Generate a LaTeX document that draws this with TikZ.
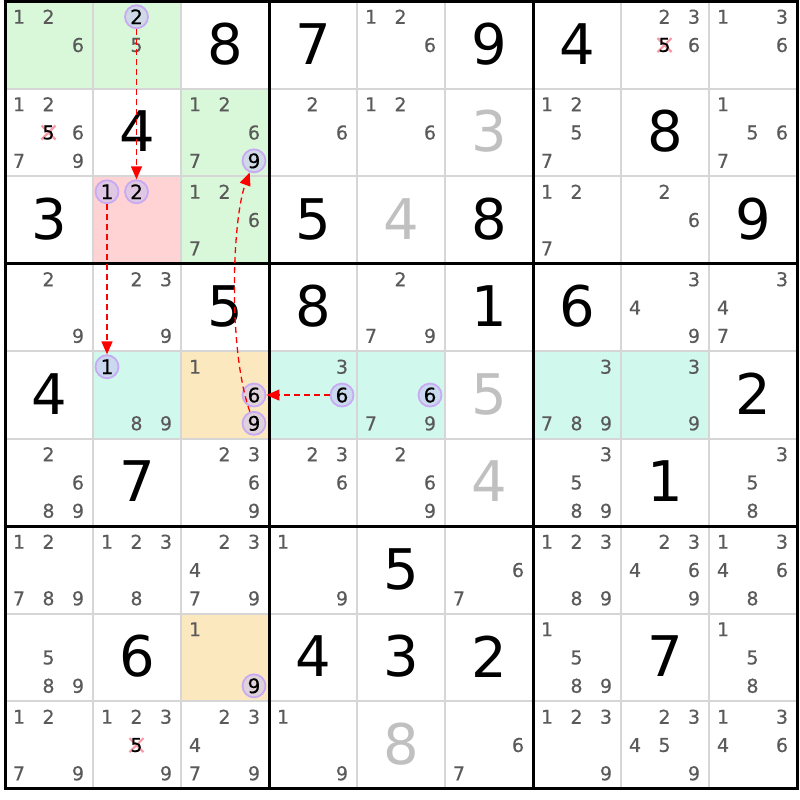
\documentclass[tikz,border=0pt]{standalone}
\usepackage{fontspec}
\setmainfont{DejaVu Sans}
\newfontfamily\candfont[FakeBold=0.35]{DejaVu Sans}
\usetikzlibrary{arrows.meta}
\definecolor{cgreen}{HTML}{D9F8D9}
\definecolor{cpink}{HTML}{FFD3D3}
\definecolor{ccyan}{HTML}{D0F8EC}
\definecolor{corange}{HTML}{FCE8BF}
\definecolor{cgrid}{HTML}{D6D6D6}
\definecolor{ccand}{HTML}{5A5A5A}
\definecolor{cgiven}{HTML}{C0C0C0}
\definecolor{cring}{HTML}{C8AAF4}
\definecolor{cringfill}{HTML}{C8C0F4}
\definecolor{cxmark}{HTML}{F59AA4}
\newcommand\CandXY[3]{%
  \pgfmathsetmacro\px{49+88*#2+29.5*(mod(#3-1,3)-1)-0.5}%
  \pgfmathsetmacro\py{45.05+87.5*#1+28.3*(floor((#3-1)/3)-1)}}
\newcommand\Cands[3]{\foreach \d in {#3}{\CandXY{#1}{#2}{\d}\node[cand] (k#1#2\d) at (\px,\py) {\d};}}
\newcommand\Ring[4]{\CandXY{#1}{#2}{#3}\node[ring] (#4) at (\px,\py) {#3};}
\newcommand\Xcand[3]{\CandXY{#1}{#2}{#3}%
  \draw[xmark] (\px-7,\py-7) -- (\px+7,\py+7) (\px-7,\py+7) -- (\px+7,\py-7);
  \node[xd] (x#1#2) at (\px,\py) {#3};}
\newcommand\BigDig[4][bigd]{\node[#1] (b#2#3) at ({49+88*#3},{44+87.5*#2}) {#4};}
\newcommand\CellFill[3]{\fill[#3] ({5+88*#2},{1.3+87.5*#1}) rectangle ++(88,87.5);}
\begin{document}
\begin{tikzpicture}[x=1pt,y=-1pt,
  cand/.style={text=ccand,font=\candfont\fontsize{19}{19}\selectfont,inner sep=0pt},
  xd/.style={text=black,font=\candfont\fontsize{19}{19}\selectfont,inner sep=0pt},
  bigd/.style={text=black,font=\fontsize{56}{56}\selectfont,inner sep=0pt},
  bigg/.style={bigd,text=cgiven},
  ring/.style={circle,draw=cring,line width=1.8pt,fill=cringfill,fill opacity=0.55,
    text opacity=1,text=black,minimum size=23pt,inner sep=0pt,font=\candfont\fontsize{20}{20}\selectfont},
  xmark/.style={draw=cxmark,line width=2.2pt},
  link/.style={draw=red,line width=1.3pt,dash pattern=on 6pt off 4pt,
    -{Triangle[length=13pt,width=11pt]}},
  thingrid/.style={draw=cgrid,line width=2pt},
  thickgrid/.style={draw=black,line width=3pt}]
\useasboundingbox (0,0) rectangle (800,800);
\fill[white] (0,0) rectangle (800,800);
% cell fills
\CellFill{0}{0}{cgreen}\CellFill{0}{1}{cgreen}\CellFill{1}{2}{cgreen}\CellFill{2}{2}{cgreen}
\CellFill{2}{1}{cpink}
\CellFill{4}{1}{ccyan}\CellFill{4}{3}{ccyan}\CellFill{4}{4}{ccyan}\CellFill{4}{6}{ccyan}\CellFill{4}{7}{ccyan}
\CellFill{4}{2}{corange}\CellFill{7}{2}{corange}
% grid
\foreach \i in {1,2,4,5,7,8}{
  \draw[thingrid] ({5+88*\i},1.3) -- ({5+88*\i},788.8);
  \draw[thingrid] (5,{1.3+87.5*\i}) -- (797,{1.3+87.5*\i});}
\foreach \i in {0,3,6,9}{
  \draw[thickgrid] ({5+88*\i},0) -- ({5+88*\i},790.3);
  \draw[thickgrid] (3.5,{1.3+87.5*\i}) -- (798.5,{1.3+87.5*\i});}
% big digits
\BigDig{0}{2}{8}\BigDig{0}{3}{7}\BigDig{0}{5}{9}\BigDig{0}{6}{4}
\BigDig{1}{1}{4}\BigDig[bigg]{1}{5}{3}\BigDig{1}{7}{8}
\BigDig{2}{0}{3}\BigDig{2}{3}{5}\BigDig[bigg]{2}{4}{4}\BigDig{2}{5}{8}\BigDig{2}{8}{9}
\BigDig{3}{2}{5}\BigDig{3}{3}{8}\BigDig{3}{5}{1}\BigDig{3}{6}{6}
\BigDig{4}{0}{4}\BigDig[bigg]{4}{5}{5}\BigDig{4}{8}{2}
\BigDig{5}{1}{7}\BigDig[bigg]{5}{5}{4}\BigDig{5}{7}{1}
\BigDig{6}{4}{5}
\BigDig{7}{1}{6}\BigDig{7}{3}{4}\BigDig{7}{4}{3}\BigDig{7}{5}{2}\BigDig{7}{7}{7}
\BigDig[bigg]{8}{4}{8}
% candidates
\Cands{0}{0}{1,2,6}\Cands{0}{1}{5}\Cands{0}{4}{1,2,6}\Cands{0}{7}{2,3,6}\Cands{0}{8}{1,3,6}
\Cands{1}{0}{1,2,6,7,9}\Cands{1}{2}{1,2,6,7}\Cands{1}{3}{2,6}\Cands{1}{4}{1,2,6}\Cands{1}{6}{1,2,5,7}\Cands{1}{8}{1,5,6,7}
\Cands{2}{2}{1,2,6,7}\Cands{2}{6}{1,2,7}\Cands{2}{7}{2,6}
\Cands{3}{0}{2,9}\Cands{3}{1}{2,3,9}\Cands{3}{4}{2,7,9}\Cands{3}{7}{3,4,9}\Cands{3}{8}{3,4,7}
\Cands{4}{1}{8,9}\Cands{4}{2}{1}\Cands{4}{3}{3}\Cands{4}{4}{7,9}\Cands{4}{6}{3,7,8,9}\Cands{4}{7}{3,9}
\Cands{5}{0}{2,6,8,9}\Cands{5}{2}{2,3,6,9}\Cands{5}{3}{2,3,6}\Cands{5}{4}{2,6,9}\Cands{5}{6}{3,5,8,9}\Cands{5}{8}{3,5,8}
\Cands{6}{0}{1,2,7,8,9}\Cands{6}{1}{1,2,3,8}\Cands{6}{2}{2,3,4,7,9}\Cands{6}{3}{1,9}\Cands{6}{5}{6,7}\Cands{6}{6}{1,2,3,8,9}\Cands{6}{7}{2,3,4,6,9}\Cands{6}{8}{1,3,4,6,8}
\Cands{7}{0}{5,8,9}\Cands{7}{2}{1}\Cands{7}{6}{1,5,8,9}\Cands{7}{8}{1,5,8}
\Cands{8}{0}{1,2,7,9}\Cands{8}{1}{1,2,3,9}\Cands{8}{2}{2,3,4,7,9}\Cands{8}{3}{1,9}\Cands{8}{5}{6,7}\Cands{8}{6}{1,2,3,9}\Cands{8}{7}{2,3,4,5,9}\Cands{8}{8}{1,3,4,6}
% eliminated
\Xcand{0}{7}{5}\Xcand{1}{0}{5}\Xcand{8}{1}{5}
% ringed
\Ring{0}{1}{2}{tA}\Ring{2}{1}{2}{tB}\Ring{2}{1}{1}{tC}\Ring{4}{1}{1}{tD}
\Ring{4}{3}{6}{tE}\Ring{4}{2}{6}{tF}\Ring{4}{2}{9}{tG}\Ring{1}{2}{9}{tH}
\Ring{4}{4}{6}{tI}\Ring{7}{2}{9}{tJ}
% links
\draw[link] (tA) -- (tB);
\draw[link] (tC) -- (tD);
\draw[link] (tE) -- (tF);
\draw[link] (tG) .. controls (228,350) and (232,220) .. (tH);
\end{tikzpicture}
\end{document}
